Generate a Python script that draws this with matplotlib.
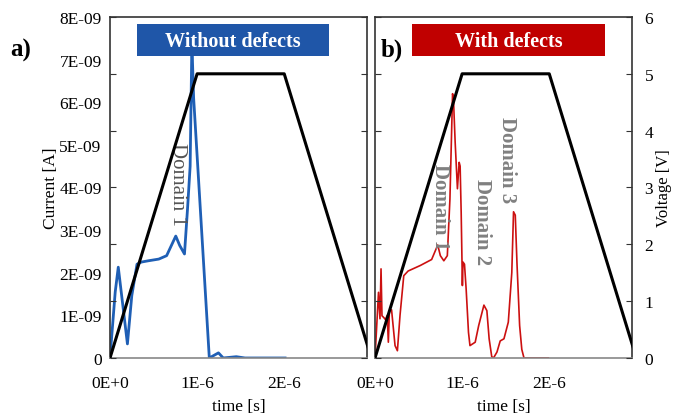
import numpy as np
import matplotlib.pyplot as plt
import matplotlib.patches as patches

plt.rcParams['font.family'] = ['Liberation Serif', 'DejaVu Serif']

# voltage ramp (both panels)
v_t = [0, 1.0e-6, 2.0e-6, 3.0e-6]
v_v = [0, 5, 5, 0]

# current without defects [s], [A]
a_t = np.array([0, 0.06, 0.095, 0.20, 0.25, 0.31, 0.36, 0.44, 0.56, 0.65, 0.755,
                0.80, 0.855, 0.89, 0.92, 0.94, 0.96, 1.14, 1.245, 1.30,
                1.45, 1.55, 2.01]) * 1e-6
a_i = np.array([0, 1.55, 2.13, 0.33, 1.46, 2.2, 2.25, 2.28, 2.32, 2.4, 2.86,
                2.64, 2.44, 3.5, 4.5, 7.4, 6.1, 0, 0.12, 0,
                0.03, 0, 0]) * 1e-9

# current with defects
b_t = np.array([0, 0.04, 0.057, 0.069, 0.08, 0.10, 0.12, 0.14, 0.153, 0.165, 0.19,
                0.23, 0.257, 0.287, 0.33, 0.38, 0.52, 0.65, 0.72, 0.75, 0.79,
                0.83, 0.86, 0.89, 0.90, 0.92, 0.946, 0.966, 0.977, 0.989, 1.003,
                1.01, 1.027, 1.046, 1.073, 1.09, 1.15, 1.19, 1.25, 1.284, 1.31,
                1.34, 1.36, 1.40, 1.437, 1.48, 1.53, 1.57, 1.59, 1.61, 1.63,
                1.66, 1.685, 1.71, 1.99]) * 1e-6
b_i = np.array([0, 1.54, 0.92, 2.09, 0.99, 0.95, 0.90, 1.0, 0.37, 1.11, 1.13,
                0.29, 0.17, 1.0, 1.93, 2.04, 2.17, 2.31, 2.65, 2.4, 2.28,
                2.4, 3.73, 6.2, 6.1, 5.06, 3.97, 4.59, 4.5, 3.42, 1.7,
                2.25, 2.2, 1.62, 0.6, 0.29, 0.37, 0.76, 1.24, 1.11, 0.45,
                0.03, 0, 0.14, 0.4, 0.45, 0.84, 2.0, 3.43, 3.35, 2.2,
                0.76, 0.2, 0, 0]) * 1e-9

cur_ticks = np.arange(0, 9) * 1e-9
cur_labels = ['0', '1E-09', '2E-09', '3E-09', '4E-09', '5E-09', '6E-09', '7E-09', '8E-09']
x_ticks = [0, 1e-6, 2e-6]
x_labels = ['0E+0', '1E-6', '2E-6']
xmax = 2.95e-6

fig = plt.figure(figsize=(6.74, 4.14), dpi=100)
ax_a = fig.add_axes([0.1632, 0.1329, 0.3813, 0.8237])
ax_b = fig.add_axes([0.5564, 0.1329, 0.3813, 0.8237])

panels = [
    (ax_a, a_t, a_i, '#1f5fb5', 2.0, 'Without defects', '#1f56a8', 0.105, 0.852),
    (ax_b, b_t, b_i, '#cc1010', 1.2, 'With defects', '#c00000', 0.144, 0.895),
]

for ax, t, i, col, lw, title, boxcol, bx0, bx1 in panels:
    ax.plot(t, i, color=col, lw=lw)
    ax.set_xlim(0, xmax)
    ax.set_ylim(0, 8e-9)
    ax.set_xticks(x_ticks)
    ax.set_xticklabels(x_labels, fontsize=12.5)
    ax.set_xlabel('time [s]', fontsize=12.5, labelpad=5)
    ax.tick_params(axis='x', length=0, pad=12)
    for s in ax.spines.values():
        s.set_color('#333333')
        s.set_linewidth(1.2)
    ax.spines['bottom'].set_color('#888888')

    tw = ax.twinx()
    tw.plot(v_t, v_v, color='black', lw=2.2)
    tw.set_ylim(0, 6)
    tw.set_xlim(0, xmax)
    tw.set_yticks(range(7))
    tw.tick_params(axis='y', direction='in', length=4, left=True, right=True,
                   labelsize=12.5, color='#333333', pad=9)
    for s in tw.spines.values():
        s.set_visible(False)

    rect = patches.Rectangle((bx0, 0.886), bx1 - bx0, 0.093, transform=tw.transAxes,
                             facecolor=boxcol, edgecolor='none', zorder=5)
    tw.add_patch(rect)
    tw.text((bx0 + bx1) / 2, 0.93, title, transform=tw.transAxes, ha='center',
            va='center', color='white', fontsize=14.5, fontweight='bold', zorder=6)

    if ax is ax_a:
        ax.set_yticks(cur_ticks)
        ax.set_yticklabels(cur_labels, fontsize=12.5)
        ax.tick_params(axis='y', length=0, pad=6)
        ax.set_ylabel('Current [A]', fontsize=12.5, labelpad=0)
        tw.set_yticklabels([])
    else:
        ax.set_yticks([])
        tw.set_ylabel('Voltage [V]', fontsize=12, labelpad=2)

fig.text(10 / 674, 1 - 50 / 414, 'a)', fontsize=18, fontweight='bold', va='center')
fig.text(381 / 674, 1 - 50 / 414, 'b)', fontsize=18, fontweight='bold', va='center')

# domain labels (x in data, y from figure px)
def dom(ax, x, ypx, s, c, w):
    ax.text(x, (359 - ypx) / 341 * 8e-9, s, rotation=-90, ha='center', va='center',
            fontsize=15, color=c, fontweight=w)

dom(ax_a, (177 - 110) / 87 * 1e-6, 184, 'Domain 1', '#555555', 'normal')
dom(ax_b, (440 - 375) / 87 * 1e-6, 207, 'Domain 1', '#808080', 'bold')
dom(ax_b, (482 - 375) / 87 * 1e-6, 222, 'Domain 2', '#808080', 'bold')
dom(ax_b, (507 - 375) / 87 * 1e-6, 160, 'Domain 3', '#808080', 'bold')

fig.savefig('out.png', dpi=100)
